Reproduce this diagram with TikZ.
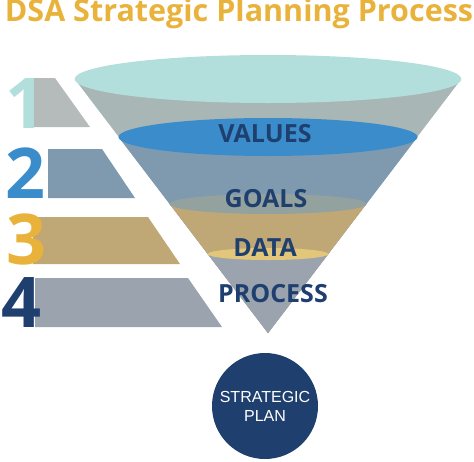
\documentclass[tikz,border=0pt]{standalone}
\usepackage{fontspec}
\setmainfont{Open Sans}
\newfontfamily\planfont{Liberation Sans}
\usepackage{xcolor}
\definecolor{dsagold}{HTML}{E9B23A}
\definecolor{dsateal}{HTML}{B2DFDB}
\definecolor{dsablue}{HTML}{3A8DCA}
\definecolor{dsanavy}{HTML}{1F3F6F}
\definecolor{bandgray}{HTML}{A9B6B6}
\definecolor{bandslate}{HTML}{7F9AAF}
\definecolor{bandtan}{HTML}{C0A876}
\definecolor{bandsteel}{HTML}{9AA3AE}
\definecolor{goalsgray}{HTML}{93A29F}
\definecolor{datayellow}{HTML}{E2C77A}
\definecolor{barlight}{HTML}{B5BBBB}

\begin{document}
\begin{tikzpicture}[x=1pt, y=-1pt,%pixel units, y downwards
    layer/.style = {font=\bfseries\fontsize{25}{25}\selectfont, text=dsanavy},
    num/.style   = {font=\bfseries\fontsize{70}{70}\selectfont, anchor=south west, inner sep=0pt}]
      \useasboundingbox (0,0) rectangle (474,461);
      \coordinate (apex) at (268,333);
      % title
      \node[text=dsagold, font=\bfseries\fontsize{30.5}{30.5}\selectfont] (title) at (239,14) {DSA Strategic Planning Process};
      % steps on the left
      \fill[barlight]  (33,78)  -- (55,78)   -- (90,127)  -- (33,127)  -- cycle;
      \fill[bandslate] (48,149) -- (102,149) -- (135,198) -- (48,198) -- cycle;
      \fill[bandtan]   (33,217) -- (148,217) -- (180,264) -- (33,264) -- cycle;
      \fill[bandsteel] (35,278) -- (188,278) -- (222,327) -- (35,327) -- cycle;
      \node[num, text=dsateal] (one)   at (5,129)  {1};
      \node[num, text=dsablue] (two)   at (5,199)  {2};
      \node[num, text=dsagold] (three) at (6,265)  {3};
      \node[num, text=dsanavy] (four)  at (1,328)  {4};
      % the funnel, from the top down
      \fill[bandgray]  (74.7,79)  -- (apex) -- (461.3,79)  -- cycle;
      \fill[bandslate] (118.5,137) -- (apex) -- (417.5,137) -- cycle;
      \fill[dsablue]   (268,137) ellipse [x radius=149.5, y radius=19];
      \fill[bandtan]   (169.6,204) -- (apex) -- (366.4,204) -- cycle;
      \fill[goalsgray] (268,204) ellipse [x radius=98.4, y radius=10];
      \fill[bandsteel] (207.7,254) -- (apex) -- (328.3,254) -- cycle;
      \fill[datayellow] (268,254) ellipse [x radius=60.3, y radius=6];
      \fill[dsateal]   (268,79) ellipse [x radius=193.3, y radius=24];
      \node[layer] (values)  at (265,134) {VALUES};
      \node[layer] (goals)   at (266,199) {GOALS};
      \node[layer] (data)    at (265,248) {DATA};
      \node[layer] (process) at (273,294) {PROCESS};
      % result
      \node[circle, fill=dsanavy, minimum size=106pt, text=white, align=center,
            font=\planfont\fontsize{16}{19}\selectfont] (plan) at (265,406) {STRATEGIC\\PLAN};
    \end{tikzpicture}
\end{document}
